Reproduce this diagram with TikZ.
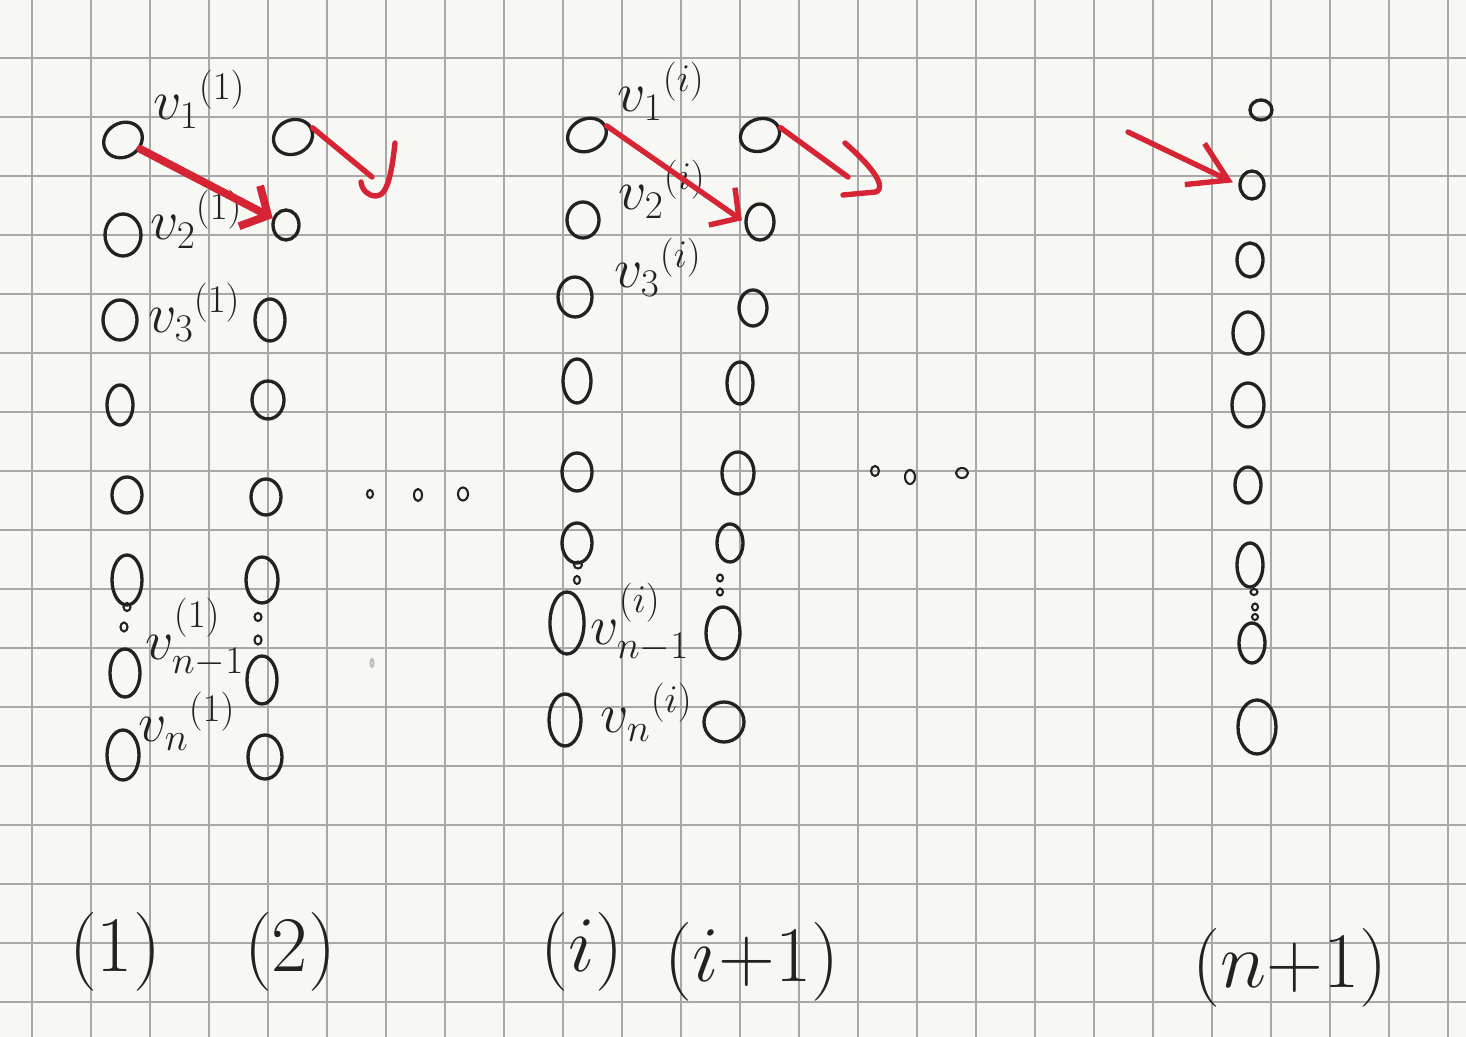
\documentclass[tikz,border=0pt]{standalone}
\usepackage{fix-cm}
\usetikzlibrary{shapes.geometric,arrows.meta}

\definecolor{paper}{RGB}{247,248,243}
\definecolor{gridgray}{RGB}{168,168,168}
\definecolor{ink}{RGB}{34,34,34}
\definecolor{redpen}{RGB}{214,36,52}

% one pixel of the scanned sheet
\newcommand{\pxu}{0.016949cm}

\tikzset{
  vtx/.style 2 args={ellipse,draw=ink,line width=1.6pt,inner sep=0pt,
    minimum width=#1*\pxu,minimum height=#2*\pxu},
  dotv/.style 2 args={ellipse,draw=ink,line width=1pt,inner sep=0pt,
    minimum width=#1*\pxu,minimum height=#2*\pxu},
  lab/.style={text=ink,font=\fontsize{27}{30}\selectfont,anchor=base west,inner sep=0pt},
  layer/.style={text=ink,font=\fontsize{38}{42}\selectfont,inner sep=0pt},
  gridline/.style={draw=gridgray,line width=0.6pt},
  redpenline/.style={draw=redpen,line width=2.6pt,line cap=round,line join=round},
  redtip/.style={-{Straight Barb[length=#1,width=22pt]}},
}

\begin{document}
\begin{tikzpicture}[x=0.016949cm,y=-0.016949cm]
\fill[paper] (0,0) rectangle (1466,1037);
\useasboundingbox (0,0) rectangle (1466,1037);

% squared paper
\foreach \k in {0,...,24}
  \draw[gridline] ({32+59*\k},0) -- ({32+59*\k},1037);
\foreach \k in {1,...,17}
  \draw[gridline] (0,{-1+59*\k}) -- (1466,{-1+59*\k});

% layer (1)
\foreach \n/\x/\y/\w/\h/\r in {1/123/140/40/34/30, 2/123/235/36/42/0, 3/120/320/34/40/0,
    4/120/405/26/40/0, 5/127/495/30/36/0, 6/127/580/30/50/0, 7/125/673/30/48/0, 8/123/755/32/50/0}
  \node[vtx={\w}{\h},rotate=\r] (a\n) at (\x,\y) {};
% layer (2)
\foreach \n/\x/\y/\w/\h/\r in {1/293/137/40/34/25, 2/286/225/26/30/0, 3/270/320/30/42/0,
    4/268/400/32/38/0, 5/266/497/30/36/0, 6/262/580/32/46/0, 7/262/680/30/48/0, 8/265/757/34/44/0}
  \node[vtx={\w}{\h},rotate=\r] (b\n) at (\x,\y) {};
% layer (i)
\foreach \n/\x/\y/\w/\h/\r in {1/587/135/40/32/25, 2/583/220/32/36/0, 3/575/297/34/40/0,
    4/577/381/28/44/0, 5/577/472/30/38/0, 6/577/543/30/40/0, 7/567/623/34/62/0, 8/565/720/32/52/0}
  \node[vtx={\w}{\h},rotate=\r] (p\n) at (\x,\y) {};
% layer (i+1)
\foreach \n/\x/\y/\w/\h/\r in {1/760/135/40/32/20, 2/760/222/28/36/0, 3/753/308/28/36/0,
    4/740/383/26/42/0, 5/738/473/32/42/0, 6/730/543/26/38/0, 7/723/633/34/52/0, 8/724/722/40/40/0}
  \node[vtx={\w}{\h},rotate=\r] (q\n) at (\x,\y) {};
% layer (n+1)
\foreach \n/\x/\y/\w/\h in {0/1261/110/22/20, 1/1252/185/24/28, 2/1250/260/26/34, 3/1248/333/30/42,
    4/1248/405/32/44, 5/1248/485/26/36, 6/1250/565/26/44, 7/1252/643/26/40, 8/1257/727/38/54}
  \node[vtx={\w}{\h}] (z\n) at (\x,\y) {};

% vertical dots
\foreach \m/\x/\y/\w/\h in {a1/127/607/7/8, a2/124/627/7/9, b1/258/617/7/8, b2/258/640/7/9,
    p1/578/565/8/7, p2/577/580/6/8, q1/720/578/6/7, q2/720/592/6/7,
    z1/1254/592/7/6, z2/1255/607/6/7, z3/1255/617/6/6}
  \node[dotv={\w}{\h}] (d\m) at (\x,\y) {};
\node[dotv={3}{8},draw=gray!50] (dstray) at (372,663) {};

% horizontal dots
\foreach \m/\x/\y/\w/\h in {1/370/494/6/8, 2/418/495/8/12, 3/463/494/10/13,
    4/875/471/8/10, 5/910/477/10/14, 6/962/473/12/10}
  \node[dotv={\w}{\h}] (h\m) at (\x,\y) {};

% labels
\node[lab] (la1) at (153,120) {$v_1{}^{(1)}$};
\node[lab] (la2) at (150,240) {$v_2{}^{(1)}$};
\node[lab] (la3) at (148,333) {$v_3{}^{(1)}$};
\node[lab] (la7) at (145,660) {$v_{n-1}^{\raisebox{6pt}{$\scriptstyle(1)$}}$};
\node[lab] (la8) at (138,742) {$v_n{}^{(1)}$};
\node[lab] (lp1) at (617,112) {$v_1{}^{(i)}$};
\node[lab] (lp2) at (618,210) {$v_2{}^{(i)}$};
\node[lab] (lp3) at (614,288) {$v_3{}^{(i)}$};
\node[lab] (lp7) at (590,645) {$v_{n-1}^{\raisebox{6pt}{$\scriptstyle(i)$}}$};
\node[lab] (lp8) at (600,733) {$v_n{}^{(i)}$};

\node[layer] (L1) at (115,952) {$(1)$};
\node[layer] (L2) at (290,952) {$(2)$};
\node[layer] (Li) at (582,952) {$(i)$};
\node[layer] (Lj) at (752,962) {$(i{+}1)$};
\node[layer] (Ln) at (1290,968) {$(n{+}1)$};

% red arrows
\draw[redpenline,line width=3.8pt,redtip=10pt] (a1) -- (b2);
\draw[redpenline,redtip=10pt,shorten >=3*\pxu] (p1.east) -- (q2.west);

\coordinate (hb) at (372,177);
\draw[redpenline] (b1.east) -- (hb);
\draw[redpenline] (395,143) .. controls (392,170) and (388,196) .. (376,196)
  .. controls (368,196) and (362,190) .. (361,182);

\coordinate (hq) at (848,177);
\draw[redpenline] (q1.east) -- (hq);
\draw[redpenline] (845,143) .. controls (868,163) and (888,186) .. (876,192) -- (843,195);

\coordinate (inarr) at (1128,132);
\draw[redpenline,redtip=18pt,shorten >=6*\pxu] (inarr) -- (z1.west);
\end{tikzpicture}
\end{document}
